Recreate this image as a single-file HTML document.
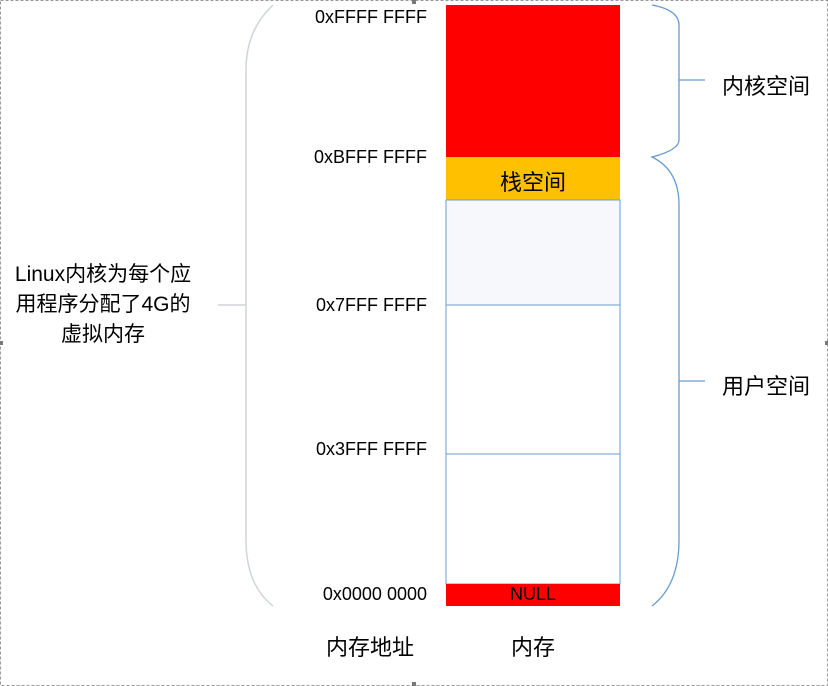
<!DOCTYPE html>
<html><head><meta charset="utf-8"><style>
body{margin:0;width:828px;height:686px;background:#fff;position:relative;overflow:hidden;font-family:"Liberation Sans","Noto Sans CJK SC",sans-serif;}
.t{position:absolute;font-size:18px;color:#000;white-space:nowrap;}
.a{right:401px;text-align:right;}
</style></head><body>
<svg width="828" height="686" style="position:absolute;left:0;top:0">
<rect x="0.5" y="0.5" width="827" height="685" fill="none" stroke="#999" stroke-dasharray="3,2"/>
<rect x="412" y="0" width="4" height="4" fill="#777"/><rect x="412" y="682" width="4" height="4" fill="#777"/>
<rect x="0" y="341" width="3" height="4" fill="#777"/><rect x="825" y="341" width="3" height="4" fill="#777"/>
<rect x="446" y="5" width="174" height="152" fill="#ff0000"/>
<rect x="446" y="157" width="174" height="43" fill="#ffc000"/>
<rect x="446" y="200" width="174" height="105" fill="#f6f8fc" stroke="#6a9bd0" stroke-width="1"/>
<rect x="446" y="305" width="174" height="149" fill="#fff" stroke="#6a9bd0" stroke-width="1"/>
<rect x="446" y="454" width="174" height="130" fill="#fff" stroke="#6a9bd0" stroke-width="1"/>
<rect x="446" y="584" width="174" height="22" fill="#ff0000"/>
<path d="M273 5 Q246 30 246 70 L246 540 Q246 585 273 606" fill="none" stroke="#d0d4da" stroke-width="1.5"/>
<line x1="218" y1="305" x2="246" y2="305" stroke="#d0d4da" stroke-width="1.5"/>
<path d="M652 5 Q679 10 679 25 L679 140 Q679 150 652 157 Q679 170 679 205 L679 540 Q679 585 652 606" fill="none" stroke="#6a9bd0" stroke-width="1.3"/>
<line x1="679" y1="80" x2="705" y2="80" stroke="#6a9bd0" stroke-width="1.3"/>
<line x1="679" y1="381" x2="705" y2="381" stroke="#6a9bd0" stroke-width="1.3"/>
</svg>
<div class="t a" style="top:7px">0xFFFF FFFF</div>
<div class="t a" style="top:147px">0xBFFF FFFF</div>
<div class="t a" style="top:295px">0x7FFF FFFF</div>
<div class="t a" style="top:439px">0x3FFF FFFF</div>
<div class="t a" style="top:584px">0x0000 0000</div>
<div class="t" style="left:446px;width:174px;text-align:center;top:165px;font-size:22px">栈空间</div>
<div class="t" style="left:446px;width:174px;text-align:center;top:584px;font-size:18px">NULL</div>
<div class="t" style="left:326px;top:630px;font-size:22px">内存地址</div>
<div class="t" style="left:511px;top:630px;font-size:22px">内存</div>
<div class="t" style="left:722px;top:69px;font-size:22px">内核空间</div>
<div class="t" style="left:722px;top:369px;font-size:22px">用户空间</div>
<div class="t" style="left:0;width:206px;top:260px;font-size:21px;line-height:30px;text-align:center;white-space:normal">Linux内核为每个应<br>用程序分配了4G的<br>虚拟内存</div>
</body></html>
